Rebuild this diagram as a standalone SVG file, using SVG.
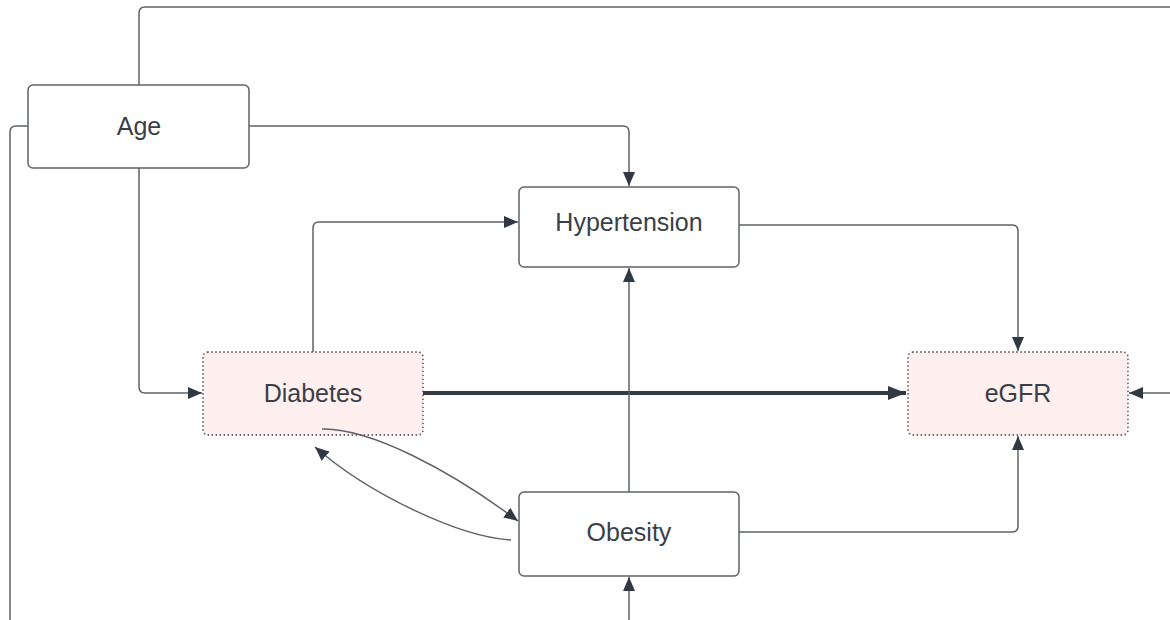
<svg xmlns="http://www.w3.org/2000/svg" width="1170" height="620" viewBox="0 0 1170 620">
<style>
.box{fill:#ffffff;stroke:#5e6369;stroke-width:1.5}
.dot{fill:#fff0ef;stroke:#5a5f66;stroke-width:1.8;stroke-dasharray:0 4;stroke-linecap:round}
.lbl{font-family:"Liberation Sans",Arial,sans-serif;font-size:25px;fill:#3a3f47;text-anchor:middle;dominant-baseline:central}
.c{fill:none;stroke:#5e6369;stroke-width:1.5}
.thick{fill:none;stroke:#333b45;stroke-width:4}
</style>
<defs>
<marker id="a" viewBox="0 0 14 12" refX="14" refY="6" markerWidth="14" markerHeight="12" markerUnits="userSpaceOnUse" orient="auto">
<path d="M0,0 L14,6 L0,12 Z" fill="#2f3843"/>
</marker>
<marker id="at" viewBox="0 0 18 14" refX="18" refY="7" markerWidth="18" markerHeight="14" markerUnits="userSpaceOnUse" orient="auto">
<path d="M0,0 L18,7 L0,14 Z" fill="#2f3843"/>
</marker>
</defs>
<rect width="1170" height="620" fill="#ffffff"/>
<g id="age"><rect class="box" x="28" y="85" width="221" height="83" rx="5"/><text class="lbl" x="139" y="126">Age</text></g>
<g id="hypertension"><rect class="box" x="519" y="187" width="220" height="80" rx="5"/><text class="lbl" x="629" y="222">Hypertension</text></g>
<g id="diabetes"><rect class="dot" x="203" y="352" width="220" height="83" rx="5"/><text class="lbl" x="313" y="393">Diabetes</text></g>
<g id="egfr"><rect class="dot" x="908" y="352" width="220" height="83" rx="5"/><text class="lbl" x="1018" y="393">eGFR</text></g>
<g id="obesity"><rect class="box" x="519" y="492" width="220" height="84" rx="5"/><text class="lbl" x="629" y="532">Obesity</text></g>
<g id="connectors">
<path class="c" d="M139,85 V13 Q139,7 145,7 H1170"/>
<path class="c" d="M28,126 H16 Q10,126 10,132 V620"/>
<path class="c" d="M249,126 H623 Q629,126 629,132 V186" marker-end="url(#a)"/>
<path class="c" d="M139,168 V387 Q139,393 145,393 H202" marker-end="url(#a)"/>
<path class="c" d="M313,352 V228 Q313,222 319,222 H518" marker-end="url(#a)"/>
<path class="c" d="M739,225 H1012 Q1018,225 1018,231 V351" marker-end="url(#a)"/>
<path class="thick" d="M423,393 H906" marker-end="url(#at)"/>
<path class="c" d="M629,492 V268" marker-end="url(#a)"/>
<path class="c" d="M739,532 H1012 Q1018,532 1018,526 V436" marker-end="url(#a)"/>
<path class="c" d="M1170,393 H1129" marker-end="url(#a)"/>
<path class="c" d="M629,620 V577" marker-end="url(#a)"/>
<path class="c" d="M322,429 C370,428 450,470 518,521" marker-end="url(#a)"/>
<path class="c" d="M511,540 C460,537 370,495 315,447" marker-end="url(#a)"/>
</g>
</svg>
